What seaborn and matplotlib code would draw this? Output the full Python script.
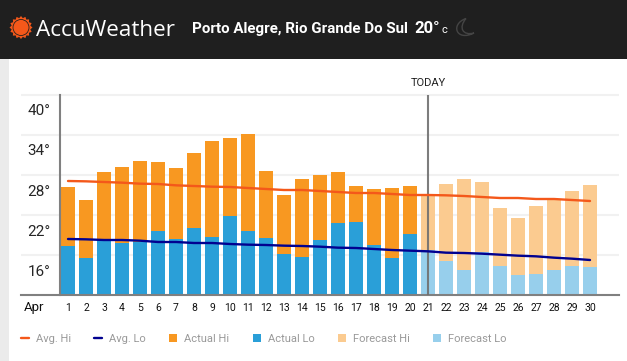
import numpy as np
import seaborn as sns
import matplotlib.pyplot as plt
from matplotlib.lines import Line2D
from matplotlib.patches import Circle, Patch, PathPatch, Polygon, Rectangle
from matplotlib.path import Path

days = list(range(1, 31))
actual_days = days[:20]
forecast_days = days[20:]

actual_hi = [28.45, 26.5, 30.7, 31.45, 32.35, 32.2, 31.3, 33.55, 35.35, 35.8,
             36.4, 30.85, 27.25, 29.65, 30.25, 30.7, 28.6, 28.15, 28.3, 28.6]
actual_lo = [19.6, 17.8, 20.35, 20.05, 20.2, 21.85, 20.65, 22.3, 20.95, 24.1,
             21.85, 20.8, 18.4, 17.95, 20.5, 23.05, 23.2, 19.75, 17.8, 21.4]
forecast_hi = [27.25, 28.9, 29.65, 29.2, 25.3, 23.8, 25.6, 26.5, 27.85, 28.75]
forecast_lo = [19.0, 17.35, 16.0, 18.7, 16.6, 15.25, 15.4, 16.0, 16.6, 16.45]
avg_hi = [29.35, 29.3, 29.2, 29.1, 28.95, 28.9, 28.7, 28.6, 28.5, 28.45,
          28.3, 28.15, 28.0, 28.0, 27.85, 27.7, 27.55, 27.55, 27.4, 27.25,
          27.25, 27.2, 27.1, 26.95, 26.8, 26.8, 26.65, 26.65, 26.5, 26.35]
avg_lo = [20.65, 20.6, 20.5, 20.5, 20.4, 20.2, 20.2, 20.05, 20.05, 19.9,
          19.8, 19.75, 19.65, 19.6, 19.5, 19.35, 19.3, 19.15, 19.0, 18.9,
          18.8, 18.6, 18.55, 18.45, 18.3, 18.15, 18.05, 17.85, 17.7, 17.5]
temp_ticks = [16, 22, 28, 34, 40]
grid_levels = [18.25, 24.25, 30.25, 36.25, 42.25]

ORANGE, BLUE = '#f89821', '#2a9fd8'
PALE_ORANGE, PALE_BLUE = '#fbcb90', '#97cfec'
RED_LINE, NAVY_LINE = '#f4581a', '#010190'
AXIS_GRAY = '#808080'

sns.set_theme(style='white')
plt.rcParams['font.family'] = ['Roboto', 'DejaVu Sans']

W, H = 627, 361
fig = plt.figure(figsize=(W / 100, H / 100), dpi=100, facecolor='white')

# page furniture, in pixel coordinates
bg = fig.add_axes([0, 0, 1, 1], zorder=0)
bg.set_xlim(0, W)
bg.set_ylim(H, 0)
bg.axis('off')
bg.add_patch(Rectangle((0, 0), W, 59, color='#1f1f1f', lw=0))
bg.add_patch(Rectangle((0, 59), 9, H - 59, color='#ebebeb', lw=0))

# sun logo
ang = np.linspace(0, 2 * np.pi, 32, endpoint=False)
rad = np.where(np.arange(32) % 2 == 0, 11.5, 9.5)
bg.add_patch(Polygon(np.c_[21 + rad * np.cos(ang), 27.5 + rad * np.sin(ang)], color=RED_LINE, lw=0))
bg.add_patch(Circle((21, 27.5), 8.4, fc='#1f1f1f', lw=0))
bg.add_patch(Circle((21, 27.5), 7.6, fc=RED_LINE, lw=0))
bg.text(36, 36.5, 'AccuWeather', color='white', fontsize=16.2, family='Open Sans', va='baseline')
bg.text(192, 33, 'Porto Alegre, Rio Grande Do Sul', color='white', fontsize=10.9,
        fontweight='bold', va='baseline')
bg.text(414, 33, '20°', color='white', fontsize=12, fontweight='bold', va='baseline')
bg.text(441, 33, 'c', color='white', fontsize=8, va='baseline')

# moon
moon = Path([(466, 18.5), (450, 24), (456, 42), (474, 33), (463, 36), (458, 28), (466, 18.5)],
            [Path.MOVETO, Path.CURVE4, Path.CURVE4, Path.CURVE4, Path.CURVE4, Path.CURVE4, Path.CURVE4])
bg.add_patch(PathPatch(moon, fc='none', ec='#444444', lw=1))

# chart axes: x 21..619 px, y 93..295 px
ax = fig.add_axes([21 / W, 1 - 295 / H, 598 / W, 202 / H], zorder=1)
ax.patch.set_alpha(0)

bar_kw = dict(saturation=1, width=14 / 18, native_scale=True, edgecolor='none', linewidth=0, ax=ax)
sns.barplot(x=actual_days, y=actual_hi, color=ORANGE, **bar_kw)
sns.barplot(x=actual_days, y=actual_lo, color=BLUE, **bar_kw)
sns.barplot(x=forecast_days, y=forecast_hi, color=PALE_ORANGE, **bar_kw)
sns.barplot(x=forecast_days, y=forecast_lo, color=PALE_BLUE, **bar_kw)
ax.vlines(21, 12.25, 42.25, color='#6f6f6f', lw=1.5, alpha=0.9, zorder=3)
sns.lineplot(x=days, y=avg_hi, color=RED_LINE, lw=1.7, ax=ax, zorder=4)
sns.lineplot(x=days, y=avg_lo, color=NAVY_LINE, lw=1.7, ax=ax, zorder=4)

ax.set_xlim(-1.611, 31.611)
ax.set_ylim(12.25, 42.55)
ax.set_xlabel('')
ax.set_ylabel('')
ax.set_axisbelow(True)

ax.set_yticks(temp_ticks)
ax.set_yticklabels([f'{t}°' for t in temp_ticks], fontsize=10, color='#111111')
ax.set_yticks(grid_levels, minor=True)
ax.yaxis.grid(True, which='minor', color='#f1f1f1', lw=1.5)
ax.yaxis.grid(False, which='major')
ax.tick_params(axis='y', which='both', length=0, pad=7)
ax.set_xticks(days)
ax.set_xticklabels(days, fontsize=7.5, color='#111111')
ax.tick_params(axis='x', length=0, pad=6)

for name in ['top', 'right']:
    ax.spines[name].set_visible(False)
ax.spines['left'].set_position(('data', 0.556))
ax.spines['left'].set_bounds(12.25, 42.25)
ax.spines['left'].set_color(AXIS_GRAY)
ax.spines['left'].set_linewidth(1.5)
ax.spines['bottom'].set_color(AXIS_GRAY)
ax.spines['bottom'].set_linewidth(1.5)

bg.text(34, 307, 'Apr', fontsize=9.5, color='#111111', ha='center', va='center')
bg.text(428, 83, 'TODAY', fontsize=8, color='#222222', ha='center', va='center')

handles = [
    Line2D([], [], color=RED_LINE, lw=1.7),
    Line2D([], [], color=NAVY_LINE, lw=1.7),
    Patch(color=ORANGE, lw=0),
    Patch(color=BLUE, lw=0),
    Patch(color=PALE_ORANGE, lw=0),
    Patch(color=PALE_BLUE, lw=0),
]
labels = ['Avg. Hi', 'Avg. Lo', 'Actual Hi', 'Actual Lo', 'Forecast Hi', 'Forecast Lo']
ax.legend(handles, labels, ncols=6, frameon=False, loc='center left',
          bbox_to_anchor=(21, 339), bbox_transform=bg.transData,
          borderpad=0, borderaxespad=0, fontsize=8, labelcolor='#999999',
          handlelength=0.72, handleheight=0.65, handletextpad=0.62, columnspacing=2.1)

fig.savefig('out.png', dpi=100)
